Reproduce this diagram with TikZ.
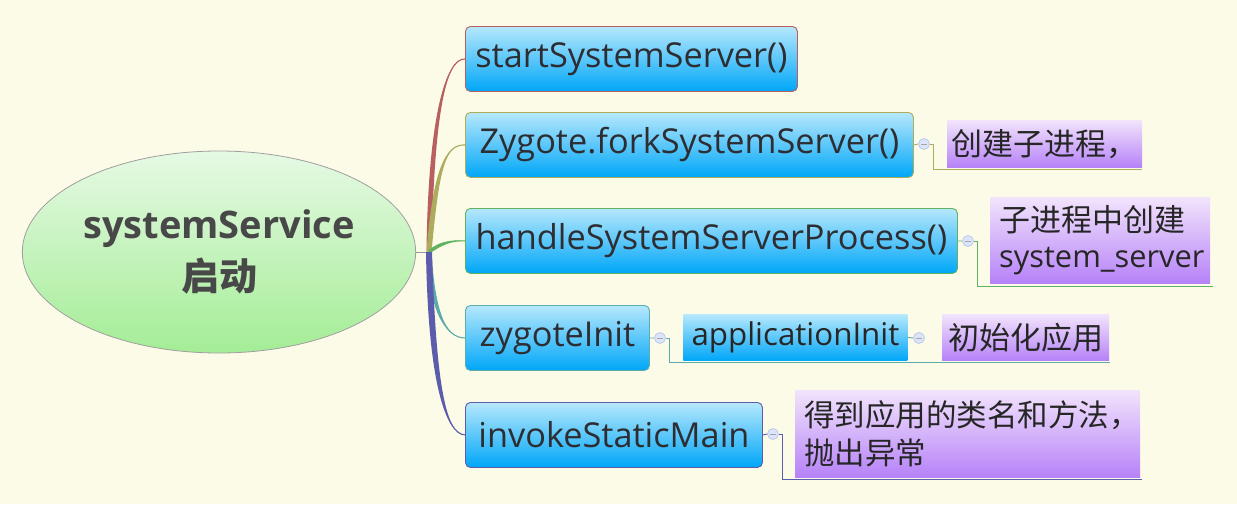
\documentclass[tikz,border=0pt]{standalone}
\usepackage{fontspec}
\setmainfont{Open Sans}
\newfontfamily\cjk{Noto Sans CJK SC}
\usetikzlibrary{shapes.geometric,calc}
\definecolor{bg}{RGB}{252,251,232}
\definecolor{rootT}{RGB}{230,249,228}
\definecolor{rootB}{RGB}{164,237,150}
\definecolor{rootText}{RGB}{72,72,72}
\definecolor{blueT}{RGB}{182,232,252}
\definecolor{blueB}{RGB}{0,166,248}
\definecolor{purT}{RGB}{242,228,252}
\definecolor{purB}{RGB}{182,130,248}
\definecolor{boxText}{RGB}{45,45,50}
\definecolor{brR}{RGB}{184,96,96}
\definecolor{brO}{RGB}{172,172,92}
\definecolor{brG}{RGB}{96,178,96}
\definecolor{brT}{RGB}{92,172,172}
\definecolor{brP}{RGB}{92,92,172}
\definecolor{circF}{RGB}{220,228,250}
\definecolor{circD}{RGB}{176,192,232}
\tikzset{
  bluebox/.style={rounded corners=5pt, top color=blueT, bottom color=blueB, line width=0.9pt,
    inner sep=0pt, minimum height=65pt, anchor=north west, text=boxText,
    font=\fontsize{34.3}{40}\selectfont},
  notebox/.style={top color=purT, bottom color=purB, inner xsep=9pt, inner ysep=0pt,
    anchor=north west, text=black!85, align=left, font=\cjk\fontsize{31}{36}\selectfont},
  coll/.style={circle, minimum size=11pt, inner sep=0pt, fill=circF, draw=circD, line width=0.6pt,
    path picture={\draw[gray!70, line width=0.7pt]
      ([xshift=-2.6pt]path picture bounding box.center) -- ([xshift=2.6pt]path picture bounding box.center);}},
  link/.style={line width=0.9pt}
}
\begin{document}
\begin{tikzpicture}[x=1pt,y=-1pt]
\fill[bg] (0,0) rectangle (1237,504);
\useasboundingbox (0,0) rectangle (1237,504);

% root
\node[ellipse, minimum width=386pt, minimum height=202pt, top color=rootT, bottom color=rootB,
  draw=gray!75, line width=0.8pt, align=center, text=rootText,
  font=\bfseries\fontsize{38}{52}\selectfont] (root) at (219,252) {systemService\\{\cjk\bfseries 启动}};
\coordinate (r) at (429,252);
\draw[gray!80, line width=0.9pt] (root.east) -- (r);

% main boxes
\node[bluebox, draw=brR, minimum width=332pt] (b1) at (465,26) {startSystemServer()};
\node[bluebox, draw=brO, minimum width=448pt] (b2) at (465,112) {Zygote.forkSystemServer()};
\node[bluebox, draw=brG, minimum width=492pt] (b3) at (465,208) {handleSystemServerProcess()};
\node[bluebox, draw=brT, minimum width=184pt] (b4) at (465,305) {zygoteInit};
\node[bluebox, draw=brP, minimum width=297pt] (b5) at (465,402) {invokeStaticMain};

% branches (tapered)
\fill[brR] ($(r)+(-2.5,0)$) .. controls (428,120) and (445,58) .. (b1.west)
  .. controls (445,58) and (434,120) .. ($(r)+(2.5,0)$) -- cycle;
\draw[brR, line width=1.1pt] (r) .. controls (431,120) and (445,58) .. (b1.west);
\fill[brO] ($(r)+(-2.5,0)$) .. controls (433,170) and (445,144) .. (b2.west)
  .. controls (445,144) and (439,170) .. ($(r)+(2.5,0)$) -- cycle;
\draw[brO, line width=1.1pt] (r) .. controls (436,170) and (445,144) .. (b2.west);
\fill[brG] ($(r)+(0,-2)$) .. controls (440,241) and (450,240) .. (b3.west)
  .. controls (450,241) and (440,246) .. ($(r)+(0,2)$) -- cycle;
\draw[brG, line width=1.1pt] (r) .. controls (440,243) and (450,240) .. (b3.west);
\fill[brT] ($(r)+(-2.5,0)$) .. controls (429,310) and (445,338) .. (b4.west)
  .. controls (445,338) and (435,310) .. ($(r)+(2.5,0)$) -- cycle;
\draw[brT, line width=1.1pt] (r) .. controls (432,310) and (445,338) .. (b4.west);
\fill[brP] ($(r)+(-3,0)$) .. controls (428,380) and (445,434) .. (b5.west)
  .. controls (445,434) and (436,380) .. ($(r)+(3,0)$) -- cycle;
\draw[brP, line width=1.1pt] (r) .. controls (432,380) and (445,434) .. (b5.west);

% sub nodes
\node[bluebox, rounded corners=0pt, draw=none, minimum width=224pt, minimum height=46pt,
  font=\fontsize{31.3}{36}\selectfont, text=black!85] (ai) at (683,314) {applicationInit};
\node[notebox, minimum width=195pt, minimum height=47pt, inner xsep=4.5pt] (n1) at (947,120) {创建子进程，};
\node[notebox, text width=202pt, minimum height=86pt, inner xsep=9pt] (n2) at (990,197)
  {子进程中创建\\{\rmfamily\fontsize{30.8}{36}\selectfont system\_server}};
\node[notebox, minimum width=167pt, minimum height=46pt, inner xsep=6pt] (n3) at (942,314) {初始化应用};
\node[notebox, text width=327pt, minimum height=87pt, font=\cjk\fontsize{30.5}{38}\selectfont] (n4) at (795,390)
  {得到应用的类名和方法，\\抛出异常};

% collapse circles
\node[coll] (c2) at (924,144) {};
\node[coll] (c3) at (968,241) {};
\node[coll] (c4) at (660,338) {};
\node[coll] (cai) at (919,338) {};
\node[coll] (c5) at (773,434) {};

% sub connectors
\draw[link, brO] (b2.east) -- (c2.west);
\draw[link, brO] (c2.east) -- ++(4,0) |- ($(n1.south east)+(0,2)$);
\draw[link, brG] (b3.east) -- (c3.west);
\draw[link, brG] (c3.east) -- ++(4,0) |- ($(n2.south east)+(3,3)$);
\draw[link, brT] (b4.east) -- (c4.west);
\draw[link, brT] (c4.east) -- ++(4,0) |- ($(n3.south east)+(1,2)$);
\draw[link, brT] (ai.east) -- (cai.west);
\draw[link, brP] (b5.east) -- (c5.west);
\draw[link, brP] (c5.east) -- ++(4,0) |- ($(n4.south east)+(2,2)$);
\end{tikzpicture}
\end{document}
